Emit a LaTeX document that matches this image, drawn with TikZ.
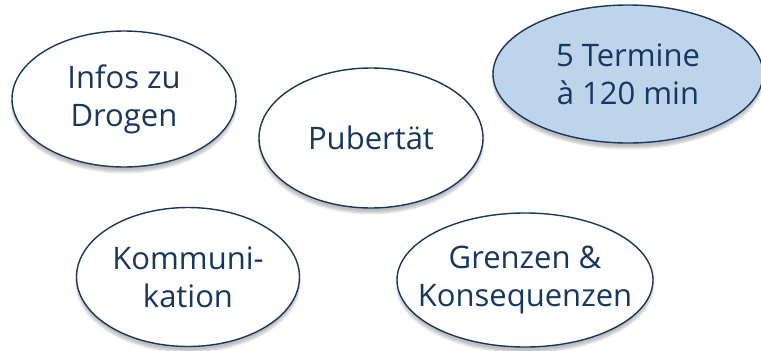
\documentclass[tikz,border=0pt]{standalone}
\usepackage{fontspec}
\setmainfont{Open Sans}
\usetikzlibrary{shapes.geometric,shadows.blur}
\definecolor{navy}{HTML}{17375E}
\definecolor{paleblue}{HTML}{BDD4EA}
\tikzset{
  topic/.style={ellipse, draw=navy, line width=1.4pt, fill=white, inner sep=0pt,
    blur shadow={shadow xshift=0pt, shadow yshift=-5pt, shadow blur steps=6, shadow opacity=25}},
  infobox/.style={topic, fill=paleblue},
  caption/.style={text=navy, align=center, font=\fontsize{31}{38}\selectfont}
}
\begin{document}
\begin{tikzpicture}[x=1pt, y=-1pt]
  \useasboundingbox (0,0) rectangle (761,351);
  % themes of the course
  \node[topic, minimum width=224pt, minimum height=136pt,
    label={[caption]center:Infos zu\\Drogen}] (drogen) at (124,99) {};
  \node[topic, minimum width=224pt, minimum height=140pt,
    label={[caption]center:Pubert\"at}] (pubertaet) at (371,138) {};
  \node[infobox, minimum width=270pt, minimum height=138pt,
    label={[caption]center:5 Termine\\\`a 120 min}] (termine) at (628,74) {};
  \node[topic, minimum width=223pt, minimum height=139pt,
    label={[caption]center:Kommuni-\\kation}] (kommunikation) at (188,277) {};
  \node[topic, minimum width=256pt, minimum height=134pt,
    label={[caption]center:Grenzen \&\\Konsequenzen}] (grenzen) at (525,280) {};
\end{tikzpicture}
\end{document}
